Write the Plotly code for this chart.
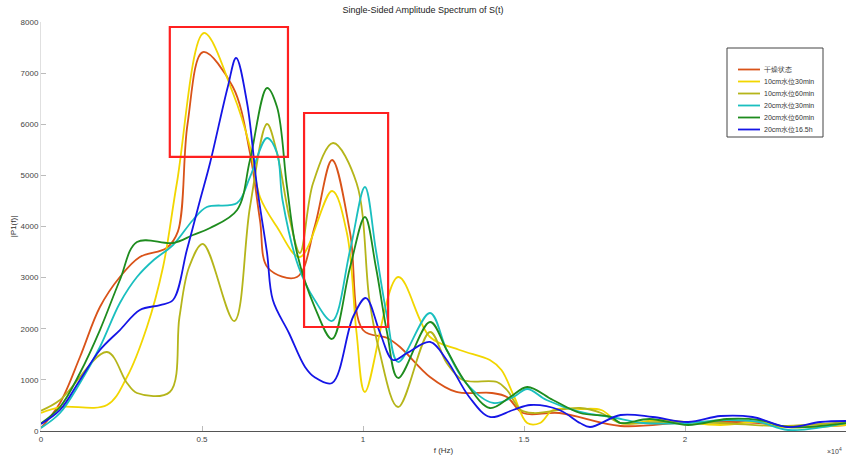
import plotly.graph_objects as go

names = ["干燥状态", "10cm水位30min", "10cm水位60min", "20cm水位30min", "20cm水位60min", "20cm水位16.5h"]
colors = ["#D95319", "#F2D600", "#B5B51A", "#1ABFBF", "#1E8C1E", "#1515E6"]

x_dry = [0, 0.059, 0.121, 0.183, 0.245, 0.307, 0.39, 0.425, 0.455, 0.503, 0.596, 0.649, 0.68, 0.705, 0.795, 0.85, 0.904, 0.96, 1.0, 1.075, 1.115, 1.208, 1.29, 1.40, 1.447, 1.497, 1.61, 1.80, 2.02, 2.23, 2.33, 2.5]
y_dry = [60, 548, 1447, 2425, 3012, 3403, 3580, 3900, 6000, 7413, 6729, 5438, 4127, 3188, 3012, 4000, 5301, 3873, 1975, 1819, 1643, 1056, 763, 743, 665, 352, 352, 98, 176, 156, 78, 117]

x_y30 = [0, 0.059, 0.205, 0.267, 0.329, 0.379, 0.422, 0.506, 0.596, 0.649, 0.68, 0.733, 0.804, 0.904, 0.95, 0.98, 1.006, 1.109, 1.208, 1.30, 1.394, 1.43, 1.47, 1.51, 1.55, 1.59, 1.674, 1.74, 1.80, 1.92, 2.11, 2.23, 2.30, 2.5]
y_y30 = [352, 469, 508, 1056, 2034, 3208, 4851, 7785, 6611, 5555, 4577, 3990, 3403, 4694, 3873, 1917, 763, 3012, 1839, 1584, 1389, 1193, 665, 156, 156, 411, 430, 411, 156, 215, 117, 176, 78, 117]

x_y60 = [0, 0.059, 0.205, 0.267, 0.298, 0.40, 0.43, 0.46, 0.503, 0.60, 0.649, 0.702, 0.733, 0.773, 0.804, 0.845, 0.907, 0.98, 1.02, 1.05, 1.109, 1.208, 1.26, 1.31, 1.416, 1.447, 1.49, 1.53, 1.674, 1.74, 1.80, 1.92, 2.11, 2.30, 2.5]
y_y60 = [397, 606, 1545, 939, 743, 763, 2230, 3208, 3658, 2150, 4381, 6005, 5438, 4127, 3482, 4851, 5633, 4851, 2562, 1584, 469, 1936, 1330, 998, 959, 802, 411, 352, 450, 352, 156, 176, 156, 98, 176]

x_c30 = [0, 0.059, 0.121, 0.183, 0.245, 0.298, 0.35, 0.41, 0.472, 0.515, 0.609, 0.649, 0.702, 0.733, 0.75, 0.80, 0.85, 0.904, 0.96, 1.006, 1.04, 1.075, 1.109, 1.208, 1.26, 1.32, 1.404, 1.467, 1.51, 1.57, 1.674, 1.77, 1.87, 2.01, 2.13, 2.23, 2.32, 2.5]
y_c30 = [60, 352, 939, 1643, 2504, 3012, 3345, 3638, 4127, 4381, 4460, 4968, 5731, 5438, 4518, 3208, 2562, 2152, 3540, 4773, 3540, 2230, 1350, 2308, 1584, 939, 548, 665, 822, 606, 372, 274, 156, 156, 215, 176, 20, 156]

x_g60 = [0, 0.059, 0.121, 0.183, 0.245, 0.298, 0.41, 0.472, 0.525, 0.609, 0.649, 0.702, 0.733, 0.764, 0.795, 0.85, 0.904, 0.96, 1.006, 1.04, 1.075, 1.109, 1.208, 1.26, 1.32, 1.394, 1.457, 1.51, 1.59, 1.674, 1.77, 1.80, 1.89, 2.01, 2.13, 2.23, 2.32, 2.5]
y_g60 = [150, 469, 1134, 1975, 2954, 3697, 3677, 3834, 3970, 4323, 5301, 6709, 6337, 4773, 3482, 2425, 1800, 3208, 4186, 3208, 1917, 1037, 2132, 1584, 939, 450, 665, 861, 606, 352, 274, 156, 235, 117, 235, 215, 78, 156]

x_b16 = [0, 0.059, 0.121, 0.183, 0.245, 0.307, 0.37, 0.41, 0.453, 0.494, 0.525, 0.58, 0.606, 0.64, 0.671, 0.702, 0.72, 0.77, 0.82, 0.85, 0.904, 0.969, 1.009, 1.053, 1.093, 1.137, 1.208, 1.26, 1.33, 1.394, 1.466, 1.52, 1.61, 1.674, 1.705, 1.80, 1.90, 2.01, 2.11, 2.21, 2.32, 2.42, 2.5]
y_b16 = [137, 411, 998, 1584, 1975, 2367, 2464, 2562, 3540, 4518, 5242, 6729, 7296, 6416, 4773, 3482, 2562, 1917, 1252, 1050, 939, 2230, 2601, 1917, 1389, 1526, 1741, 1389, 665, 274, 411, 509, 411, 156, 78, 313, 274, 176, 293, 274, 78, 176, 196]

series_x = [x_dry, x_y30, x_y60, x_c30, x_g60, x_b16]
series_y = [y_dry, y_y30, y_y60, y_c30, y_g60, y_b16]

box1 = dict(x0=0.40, x1=0.767, y0=5360, y1=7902)
box2 = dict(x0=0.817, x1=1.078, y0=2034, y1=6220)

# plot area geometry (pixels) used to place the hand-drawn legend in paper coords
L, T, W, H = 41, 22, 805, 409


def px(xp):
    return (xp - L) / W


def py(yp):
    return (T + H - yp) / H


fig = go.Figure()
for n, c, xs, ys in zip(names, colors, series_x, series_y):
    fig.add_trace(go.Scatter(x=xs, y=ys, name=n, mode="lines", showlegend=False,
                             line=dict(color=c, width=1.8, shape="spline", smoothing=1.0)))

for b in (box1, box2):
    fig.add_shape(type="rect", xref="x", yref="y", line=dict(color="#FF2020", width=2.2),
                  fillcolor="rgba(0,0,0,0)", **b)

# legend box
fig.add_shape(type="rect", xref="paper", yref="paper", x0=px(727), x1=px(823), y0=py(137), y1=py(48),
              line=dict(color="#444444", width=1), fillcolor="white", layer="above")
legend_y = [69.5, 81.5, 93.5, 105.5, 117.5, 129.5]
for n, c, yy in zip(names, colors, legend_y):
    fig.add_shape(type="line", xref="paper", yref="paper", x0=px(738), x1=px(760), y0=py(yy), y1=py(yy),
                  line=dict(color=c, width=1.8), layer="above")
    fig.add_annotation(text=n, xref="paper", yref="paper", x=px(762), y=py(yy), xanchor="left",
                       yanchor="middle", showarrow=False, font=dict(size=7, color="#333333"))

fig.update_layout(
    width=846, height=457,
    margin=dict(l=41, r=0, t=22, b=26),
    paper_bgcolor="white", plot_bgcolor="white",
    font=dict(family="Liberation Sans, Arial, sans-serif", size=8, color="#333333"),
    title=dict(text="Single-Sided Amplitude Spectrum of S(t)", x=0.5, xanchor="center",
               y=0.985, yanchor="top", font=dict(size=9, color="#222222")),
    showlegend=False,
    xaxis=dict(range=[0, 2.5], tickvals=[0, 0.5, 1, 1.5, 2, 2.5],
               ticktext=["0", "0.5", "1", "1.5", "2", "2.5"],
               showgrid=False, zeroline=False, ticks="inside", ticklen=5,
               tickcolor="#BBBBBB", showline=True, linecolor="#555555", linewidth=1.2,
               tickfont=dict(size=8, color="#444444"),
               title=dict(text="f (Hz)", font=dict(size=8, color="#333333"), standoff=4)),
    yaxis=dict(range=[0, 8000], tickvals=list(range(0, 8001, 1000)),
               showgrid=False, zeroline=False, ticks="inside", ticklen=5,
               tickcolor="#BBBBBB", showline=True, linecolor="#E0E0E0", linewidth=1,
               mirror=True, tickfont=dict(size=8, color="#444444"),
               title=dict(text="|P1(f)|", font=dict(size=8, color="#333333"), standoff=2)),
)

fig.add_annotation(text="×10<sup>4</sup>", xref="paper", yref="paper", x=0.998, y=-0.035,
                   xanchor="right", yanchor="top", showarrow=False,
                   font=dict(size=7, color="#444444"))

fig.write_html("out.html")
